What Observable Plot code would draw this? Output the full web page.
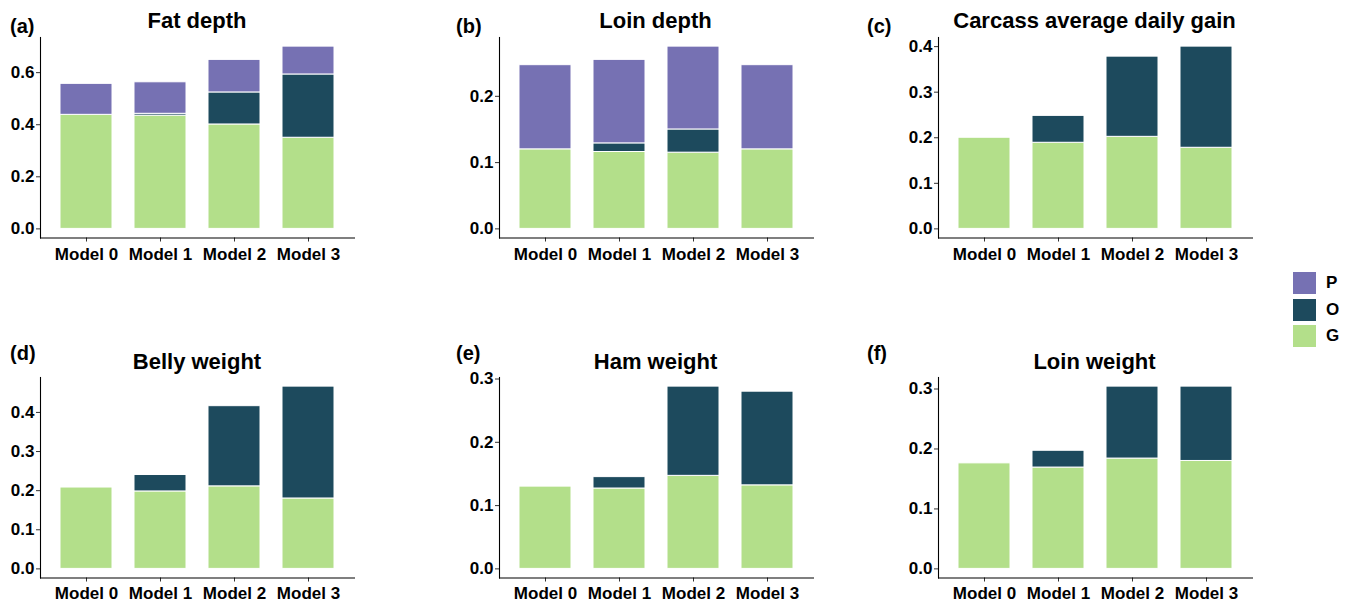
<!DOCTYPE html>
<html><head><meta charset="utf-8">
<script src="https://cdn.jsdelivr.net/npm/d3@7"></script>
<script src="https://cdn.jsdelivr.net/npm/@observablehq/plot@0.6"></script>
<style>
body{margin:0;background:#fff;font-family:"Liberation Sans",Arial,sans-serif;}
#root{position:relative;width:1354px;height:602px;overflow:hidden;background:#fff;}
.title{position:absolute;font-weight:bold;font-size:22px;text-align:center;white-space:nowrap;color:#000;}
.tag{position:absolute;font-weight:bold;font-size:20px;color:#000;}
.panel{position:absolute;}
.legend{position:absolute;left:1293px;top:272px;}
.legend .item{display:flex;align-items:center;height:22px;margin-bottom:4.5px;}
.legend .sw{width:23px;height:22px;}
.legend .lab{margin-left:10px;font-weight:bold;font-size:17px;}
</style></head>
<body><div id="root"></div>
<script>
const models = ["Model 0", "Model 1", "Model 2", "Model 3"];
const components = ["G", "O", "P"];           // stacking order, bottom to top
const legendOrder = ["P", "O", "G"];
const compColors = ["#B3DF8A", "#1D4A5D", "#7671B3"]; // G, O, P
const traits = ["Fat depth", "Loin depth", "Carcass average daily gain", "Belly weight", "Ham weight", "Loin weight"];
const tags = ["(a)", "(b)", "(c)", "(d)", "(e)", "(f)"];

// component values per trait, per model
const gValues = [
  [0.438, 0.435, 0.401, 0.350],
  [0.120, 0.116, 0.115, 0.120],
  [0.200, 0.189, 0.202, 0.178],
  [0.208, 0.198, 0.211, 0.180],
  [0.130, 0.127, 0.147, 0.132],
  [0.176, 0.169, 0.184, 0.180]
];
const oValues = [
  [0.000, 0.007, 0.123, 0.243],
  [0.000, 0.013, 0.035, 0.000],
  [0.000, 0.059, 0.176, 0.222],
  [0.000, 0.042, 0.205, 0.286],
  [0.000, 0.018, 0.141, 0.148],
  [0.000, 0.028, 0.120, 0.124]
];
const pValues = [
  [0.119, 0.121, 0.125, 0.107],
  [0.127, 0.126, 0.125, 0.127],
  [0.000, 0.000, 0.000, 0.000],
  [0.000, 0.000, 0.000, 0.000],
  [0.000, 0.000, 0.000, 0.000],
  [0.000, 0.000, 0.000, 0.000]
];
const yTicks = [
  [0, 0.2, 0.4, 0.6],
  [0, 0.1, 0.2],
  [0, 0.1, 0.2, 0.3, 0.4],
  [0, 0.1, 0.2, 0.3, 0.4],
  [0, 0.1, 0.2, 0.3],
  [0, 0.1, 0.2, 0.3]
];

const root = document.getElementById("root");
const colX = [40, 498.5, 937.5];
const rowY = [37, 377];
const tagX = [10, 456, 867];
const tagY = [15, 342];
const titleY = [8, 349];
const xPad = [6, 4.5];
const PW = 314, PH = 200.5;
const ML = 50, MR = 10, MT = 5, MB = 40;

traits.forEach((trait, i) => {
  const col = i % 3, row = Math.floor(i / 3);
  const rows = [];
  const series = [gValues[i], oValues[i], pValues[i]];
  models.forEach((m, j) => {
    components.forEach((c, k) => {
      if (series[k][j] > 0) rows.push({model: m, comp: c, value: series[k][j]});
    });
  });
  const totals = models.map((m, j) => series.reduce((s, arr) => s + arr[j], 0));
  const maxT = d3.max(totals);
  const lo = -0.05 * maxT, hi = 1.05 * maxT;

  const plot = Plot.plot({
    width: ML + PW + MR,
    height: MT + PH + MB,
    marginLeft: ML, marginRight: MR, marginTop: MT, marginBottom: MB,
    style: {fontFamily: "'Liberation Sans', Arial, sans-serif", fontSize: "17px", fontWeight: "bold", color: "#000", background: "transparent", overflow: "visible"},
    x: {domain: models, paddingInner: 0.3, paddingOuter: 0.25, label: null, axis: null},
    y: {domain: [lo, hi], label: null, axis: null},
    color: {domain: components, range: compColors},
    marks: [
      Plot.barY(rows, {x: "model", y: "value", fill: "comp", stroke: "white", strokeWidth: 1}),
      Plot.axisY(yTicks[i], {tickFormat: d3.format(".1f"), tickSize: 4, tickPadding: 2, stroke: "#333", fill: "#000", label: null}),
      Plot.axisX({tickSize: 4, tickPadding: xPad[row], stroke: "#333", fill: "#000", label: null}),
      Plot.frame({anchor: "left", stroke: "#000", strokeWidth: 1.1}),
      Plot.frame({anchor: "bottom", stroke: "#000", strokeWidth: 1.1})
    ]
  });
  const wrap = document.createElement("div");
  wrap.className = "panel";
  wrap.style.left = (colX[col] - ML) + "px";
  wrap.style.top = (rowY[row] - MT) + "px";
  wrap.appendChild(plot);
  root.appendChild(wrap);

  const t = document.createElement("div");
  t.className = "title";
  t.textContent = trait;
  t.style.left = (colX[col]) + "px";
  t.style.width = PW + "px";
  t.style.top = titleY[row] + "px";
  root.appendChild(t);

  const g = document.createElement("div");
  g.className = "tag";
  g.textContent = tags[i];
  g.style.left = tagX[col] + "px";
  g.style.top = tagY[row] + "px";
  root.appendChild(g);
});

const leg = document.createElement("div");
leg.className = "legend";
legendOrder.forEach(c => {
  const it = document.createElement("div");
  it.className = "item";
  const sw = document.createElement("div");
  sw.className = "sw";
  sw.style.background = compColors[components.indexOf(c)];
  const lab = document.createElement("span");
  lab.className = "lab";
  lab.textContent = c;
  it.appendChild(sw); it.appendChild(lab);
  leg.appendChild(it);
});
root.appendChild(leg);
</script>
</body></html>
